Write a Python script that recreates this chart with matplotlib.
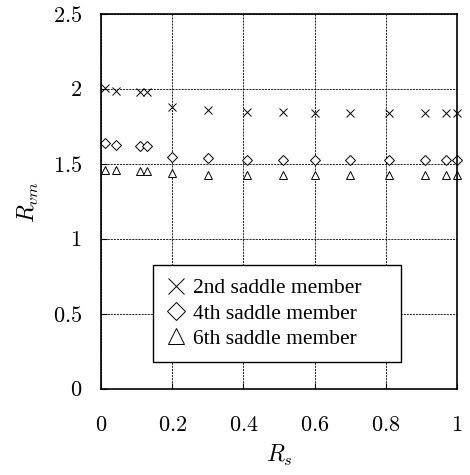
import numpy as np
import matplotlib
matplotlib.use("Agg")
from matplotlib import pyplot as plt

plt.rcParams['mathtext.fontset'] = 'cm'
plt.rcParams['font.family'] = 'Liberation Serif'

# Rs positions and Rvm values
rs = [0.01, 0.04, 0.11, 0.13, 0.2, 0.3, 0.41, 0.51, 0.6, 0.7, 0.81, 0.91, 0.97, 1.0]
rvm_2nd = [2.01, 1.99, 1.98, 1.98, 1.88, 1.86, 1.85, 1.85, 1.84, 1.84, 1.84, 1.84, 1.84, 1.84]
rvm_4th = [1.64, 1.63, 1.62, 1.62, 1.55, 1.54, 1.53, 1.53, 1.53, 1.53, 1.53, 1.53, 1.53, 1.53]
rvm_6th = [1.46, 1.46, 1.455, 1.455, 1.44, 1.43, 1.43, 1.43, 1.43, 1.43, 1.43, 1.43, 1.43, 1.43]

xticks = [0, 0.2, 0.4, 0.6, 0.8, 1]
xticklabels = ['$0$', '$0.2$', '$0.4$', '$0.6$', '$0.8$', '$1$']
yticks = [0, 0.5, 1, 1.5, 2, 2.5]
yticklabels = ['$0$', '$0.5$', '$1$', '$1.5$', '$2$', '$2.5$']

fig = plt.figure(figsize=(4.7, 4.75), dpi=100)
ax = fig.add_axes([0.2155, 0.1804, 0.7562, 0.7896])

ax.plot(rs, rvm_2nd, ls='none', marker='x', ms=5.8, mew=0.7, color='k',
        label='2nd saddle member', clip_on=False)
ax.plot(rs, rvm_4th, ls='none', marker='D', ms=4.8, mew=0.7, mfc='white', mec='k',
        label='4th saddle member', clip_on=False)
ax.plot(rs, rvm_6th, ls='none', marker='^', ms=6, mew=0.7, mfc='white', mec='k',
        label='6th saddle member', clip_on=False)

ax.set_xlim(0, 1)
ax.set_ylim(0, 2.5)
ax.set_xticks(xticks)
ax.set_xticklabels(xticklabels, fontsize=16)
ax.set_yticks(yticks)
ax.set_yticklabels(yticklabels, fontsize=16)
ax.tick_params(direction='in', length=4, width=0.8)
ax.tick_params(axis='x', pad=20)
ax.tick_params(axis='y', pad=14)
ax.grid(True, ls=(0, (2.5, 1.2)), color='k', lw=0.6)
for s in ax.spines.values():
    s.set_linewidth(1.2)

ax.set_xlabel('$R_s$', fontsize=17, labelpad=5)
ax.set_ylabel('$R_{vm}$', fontsize=17, labelpad=8)

leg = ax.legend(loc='lower left', bbox_to_anchor=(0.1455, 0.073, 0.698, 0.2),
                mode='expand', fontsize=15.5,
                frameon=True, fancybox=False, edgecolor='k', framealpha=1,
                markerscale=2.0, handlelength=0.9, handletextpad=0.35,
                borderpad=0.6, labelspacing=0.25, borderaxespad=0)
leg.get_frame().set_linewidth(1.0)

fig.savefig('out.png', dpi=100)
